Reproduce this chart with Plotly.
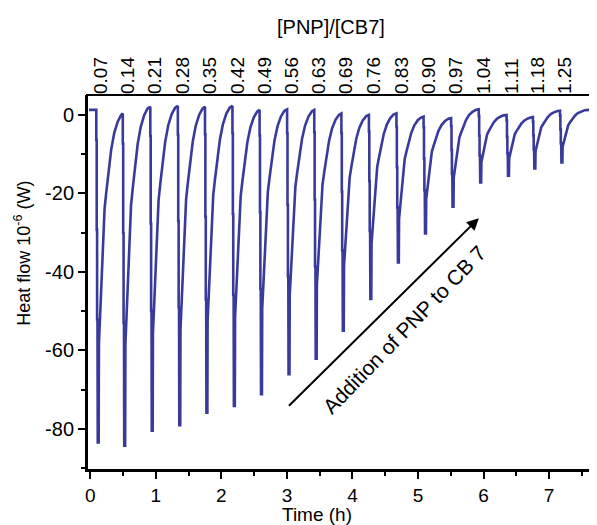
import plotly.graph_objects as go

# ---- data ----
# time (h) at which each injection drop starts
inject_times = [0.092, 0.496, 0.916, 1.336, 1.750, 2.169, 2.583, 3.003, 3.417,
                3.831, 4.251, 4.671, 5.085, 5.505, 5.927, 6.351, 6.753, 7.166]
# minimum heat flow of each injection peak (10^-6 W)
peak_minima = [-83.5, -84.3, -80.5, -79.1, -75.9, -74.2, -71.2, -66.1, -62.1,
               -55.0, -46.9, -37.6, -30.2, -23.4, -17.2, -15.5, -13.6, -12.1]
# level reached just before each injection (last value = level at end of run)
recovered_levels = [1.3, 0.4, 2.1, 2.3, 2.1, 2.3, 1.3, 1.45, 1.3, 0.4, 0.0,
                    0.4, -0.4, -0.8, 1.45, 0.0, -0.5, 1.1, 1.3]
run_start, run_end = -0.02, 7.61
# shape of one injection: offset after the drop (h) and
# fraction of the peak depth
drop_offsets = [0.0, 0.0, 0.006, 0.006, 0.012, 0.012, 0.018, 0.022]
drop_fractions = [0.0, 0.09, 0.09, 0.36, 0.36, 0.63, 0.63, 1.0]
recovery_offsets = [0.036, 0.040, 0.050, 0.076, 0.102, 0.126, 0.152, 0.182,
                    0.227, 0.273, 0.326, 0.379]
recovery_fractions = [1.0, 0.70, 0.65, 0.50, 0.38, 0.29, 0.24, 0.18,
                      0.11, 0.06, 0.025, 0.005]
# top axis labels: [PNP]/[CB7] ratio after each injection
ratio_labels = ["0.07", "0.14", "0.21", "0.28", "0.35", "0.42", "0.49", "0.56",
                "0.63", "0.69", "0.76", "0.83", "0.90", "0.97", "1.04", "1.11",
                "1.18", "1.25"]
y_tick_values = [0, -20, -40, -60, -80]
y_tick_labels = ["0", "-20", "-40", "-60", "-80"]

# ---- build the trace ----
t_pts = [run_start]
q_pts = [recovered_levels[0]]
for i, t0 in enumerate(inject_times):
    before = recovered_levels[i]
    after = recovered_levels[i + 1]
    m = peak_minima[i]
    for dt, f in zip(drop_offsets, drop_fractions):
        t_pts.append(t0 + dt)
        q_pts.append(before + f * (m - before))
    for dt, f in zip(recovery_offsets, recovery_fractions):
        t_pts.append(t0 + dt)
        q_pts.append(after + f * (m - after))
    t_next = inject_times[i + 1] if i + 1 < len(inject_times) else run_end
    t_pts.append(t_next)
    q_pts.append(after)

FONT = "Liberation Sans, Arial, sans-serif"
LINE = "#3a3a9c"

fig = go.Figure()
fig.add_trace(go.Scatter(x=t_pts, y=q_pts, mode="lines",
                         line=dict(color=LINE, width=2.6),
                         showlegend=False, hoverinfo="skip"))
# invisible trace to activate the top axis
fig.add_trace(go.Scatter(x=[inject_times[0]], y=[0], xaxis="x2", mode="markers",
                         marker=dict(opacity=0), showlegend=False,
                         hoverinfo="skip"))

x_range = [-0.05, 7.70]
# the page body adds an 8 px margin, so the figure is 8 px smaller
fig.update_layout(
    width=589, height=517,
    margin=dict(l=79, r=2, t=87, b=55, autoexpand=False),
    paper_bgcolor="white", plot_bgcolor="white",
    font=dict(family=FONT, size=18, color="black"),
    xaxis=dict(range=x_range, automargin=False, showline=True,
               linecolor="black", linewidth=2, ticks="outside", ticklen=7,
               tickwidth=2, tickcolor="black", dtick=1, tick0=0,
               showgrid=False, zeroline=False, tickfont=dict(size=19),
               minor=dict(ticks="outside", dtick=0.5, ticklen=4, tickwidth=2,
                          tickcolor="black")),
    yaxis=dict(range=[-90.5, 5.1], automargin=False, showline=True,
               linecolor="black", linewidth=2, ticks="outside", ticklen=7,
               tickwidth=2, tickcolor="black", tickvals=y_tick_values,
               ticktext=y_tick_labels, showgrid=False, zeroline=False,
               tickfont=dict(size=20),
               minor=dict(ticks="outside", tickvals=[-10, -30, -50, -70, -90],
                          ticklen=4, tickwidth=2, tickcolor="black")),
    xaxis2=dict(range=x_range, automargin=False, overlaying="x", side="top",
                showline=False, ticks="", tickvals=[t + 0.075 for t in inject_times],
                ticktext=ratio_labels, tickangle=-90, showgrid=False,
                zeroline=False, tickfont=dict(size=19)),
)

# plot frame
fig.add_shape(type="rect", xref="paper", yref="paper", x0=0, y0=0, x1=1, y1=1,
              line=dict(color="black", width=2), layer="above")

# axis titles
fig.add_annotation(text="Time (h)", xref="paper", yref="paper", x=0.452,
                   y=-0.119, showarrow=False, font=dict(size=19),
                   xanchor="center", yanchor="middle")
fig.add_annotation(text="[PNP]/[CB7]", xref="paper", yref="paper", x=0.48,
                   y=1.181, showarrow=False, font=dict(size=20),
                   xanchor="center", yanchor="middle")
fig.add_annotation(text="Heat flow 10<sup>-6</sup> (W)", xref="paper",
                   yref="paper", x=-0.126, y=0.579, showarrow=False,
                   textangle=-90, font=dict(size=18),
                   xanchor="center", yanchor="middle")

fig.add_annotation(x=5.928, y=-26.3, ax=3.008, ay=-74.5, xref="x", yref="y",
                   axref="x", ayref="y", showarrow=True, arrowhead=2,
                   arrowsize=1.2, arrowwidth=2, arrowcolor="black", text="")
fig.add_annotation(x=4.79, y=-54.6, xref="x", yref="y", showarrow=False,
                   text="Addition of PNP to CB 7", textangle=-46,
                   font=dict(size=21, color="black"))

fig.write_html("out.html")
